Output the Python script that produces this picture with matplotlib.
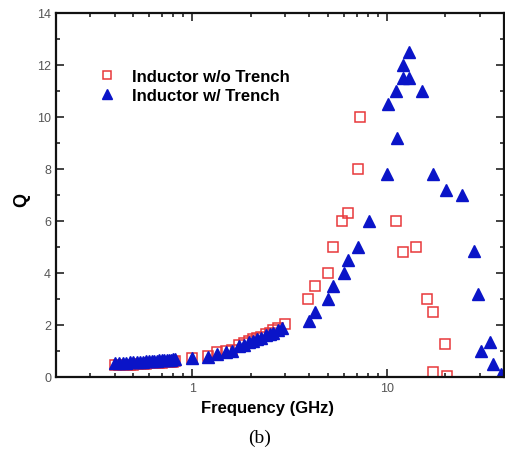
import matplotlib
matplotlib.use("Agg")
import matplotlib.pyplot as plt
from matplotlib.ticker import MultipleLocator, LogLocator, NullFormatter, FixedFormatter, FixedLocator

# Inductor without trench (red open squares)
f_wo = [0.40, 0.42, 0.44, 0.46, 0.48, 0.50, 0.52, 0.54, 0.56, 0.58, 0.60,
        0.62, 0.64, 0.66, 0.68, 0.70, 0.72, 0.74, 0.76, 0.78, 0.80, 0.82,
        1.0, 1.2, 1.35, 1.5, 1.6, 1.75, 1.85, 1.95, 2.05, 2.15, 2.25, 2.4,
        2.5, 2.6, 2.75, 3.0,
        3.96, 4.3, 5.0, 5.3, 5.9, 6.35, 7.1, 7.25,
        11.1, 12.1, 14.1, 16.1, 17.3, 19.9, 17.3, 20.4]
q_wo = [0.45, 0.45, 0.46, 0.47, 0.47, 0.48, 0.49, 0.50, 0.50, 0.51, 0.52,
        0.52, 0.53, 0.54, 0.55, 0.55, 0.56, 0.57, 0.58, 0.58, 0.59, 0.60,
        0.75, 0.80, 0.95, 1.0, 1.05, 1.25, 1.3, 1.4, 1.45, 1.5, 1.55, 1.65,
        1.7, 1.8, 1.9, 2.05,
        3.0, 3.5, 4.0, 5.0, 6.0, 6.3, 8.0, 10.0,
        6.0, 4.8, 5.0, 3.0, 2.5, 1.27, 0.2, 0.05]

# Inductor with trench (blue filled triangles)
f_w = [0.40, 0.42, 0.44, 0.46, 0.48, 0.50, 0.52, 0.54, 0.56, 0.58, 0.60,
       0.62, 0.64, 0.66, 0.68, 0.70, 0.72, 0.74, 0.76, 0.78, 0.80, 0.82,
       1.0, 1.2, 1.35, 1.5, 1.6, 1.75, 1.85, 1.95, 2.05, 2.15, 2.25, 2.4,
       2.5, 2.6, 2.75, 2.9,
       4.0, 4.3, 5.0, 5.3, 6.0, 6.35, 7.1, 8.1,
       10.0, 10.1, 11.1, 11.3, 12.1, 12.1, 13.0, 13.0, 15.1,
       17.3, 20.2, 24.3, 28.0, 29.5, 30.5, 34.0, 35.0, 38.6]
q_w = [0.52, 0.53, 0.54, 0.55, 0.56, 0.57, 0.58, 0.58, 0.59, 0.60, 0.61,
       0.62, 0.62, 0.63, 0.64, 0.65, 0.65, 0.66, 0.67, 0.67, 0.68, 0.68,
       0.72, 0.78, 0.9, 0.98, 1.0, 1.2, 1.25, 1.35, 1.4, 1.45, 1.5, 1.6,
       1.65, 1.7, 1.8, 1.9,
       2.15, 2.5, 3.0, 3.5, 4.0, 4.5, 5.0, 6.0,
       7.8, 10.5, 11.0, 9.2, 11.5, 12.0, 12.5, 11.5, 11.0,
       7.8, 7.2, 7.0, 4.85, 3.2, 1.0, 1.35, 0.5, 0.1]

labels = ["Inductor w/o Trench", "Inductor w/ Trench"]

plt.rcParams['font.family'] = ['Liberation Sans', 'DejaVu Sans']

fig = plt.figure(figsize=(5.06, 4.52), dpi=100)
ax = fig.add_axes([56 / 506, 1 - 378 / 452, 448 / 506, 364 / 452])

ax.plot(f_wo, q_wo, linestyle='none', marker='s', markersize=7.5,
        markerfacecolor='none', markeredgecolor='#e8383a', markeredgewidth=1.1,
        label=labels[0])
ax.plot(f_w, q_w, linestyle='none', marker='^', markersize=8,
        color='#0a14c8', markeredgecolor='#0a14c8', label=labels[1])

ax.set_xscale('log')
ax.set_xlim(0.2, 40)
ax.set_ylim(0, 14)

ax.yaxis.set_major_locator(MultipleLocator(2))
ax.yaxis.set_minor_locator(MultipleLocator(1))
ax.xaxis.set_major_locator(FixedLocator([1, 10]))
ax.xaxis.set_major_formatter(FixedFormatter(['1', '10']))
ax.xaxis.set_minor_locator(LogLocator(base=10, subs=range(2, 10)))
ax.xaxis.set_minor_formatter(NullFormatter())

ax.tick_params(which='both', direction='in', top=True, right=True,
               width=1.2, colors='#222222', labelsize=9, labelcolor='#555555')
ax.tick_params(which='major', length=6)
ax.tick_params(which='minor', length=3)
for s in ax.spines.values():
    s.set_linewidth(1.6)
    s.set_color('#111111')

ax.set_xlabel('Frequency (GHz)', fontsize=12, fontweight='bold')
ax.xaxis.set_label_coords(0.473, -0.062)
ax.set_ylabel('Q', fontsize=13, fontweight='bold')
ax.yaxis.set_label_coords(-0.057, 0.489)

leg = ax.legend(loc='upper left', bbox_to_anchor=(0.080, 0.865), frameon=False,
                prop={'size': 12, 'weight': 'bold'}, handletextpad=1.0,
                labelspacing=0.25, borderaxespad=0, handlelength=1.0,
                markerscale=0.85)

fig.text(260 / 506, 1 - 438 / 452, '(b)', fontsize=14, family='Liberation Serif',
         ha='center', va='center')

fig.savefig('out.png', dpi=100)
